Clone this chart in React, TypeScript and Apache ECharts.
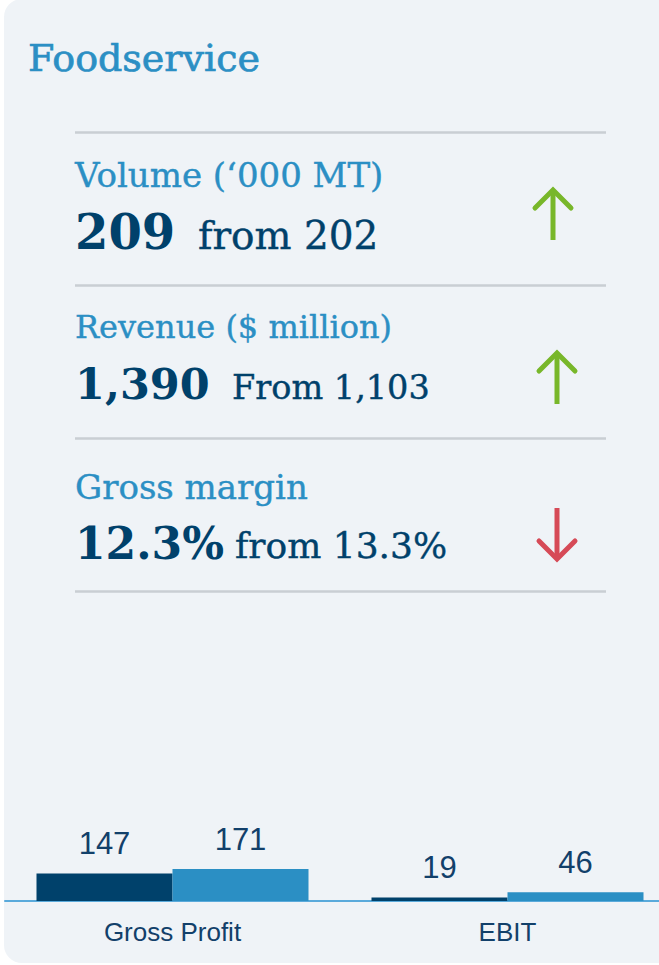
import React, { useEffect, useRef } from "react";
import * as echarts from "echarts";

const categories = ["Gross Profit", "EBIT"];
const priorValues = [147, 19];
const currentValues = [171, 46];

const metricLabels = ["Volume (‘000 MT)", "Revenue ($ million)", "Gross margin"];
const metricValues = ["209", "1,390", "12.3%"];
const metricFrom = ["from 202", "From 1,103", "from 13.3%"];
const metricDirection = ["up", "up", "down"];

const SERIF = "'DejaVu Serif', 'Liberation Serif', serif";
const SANS = "'Liberation Sans', Arial, sans-serif";
const BLUE = "#2b8fc4";
const NAVY = "#00416b";

export default function App() {
  const ref = useRef<HTMLDivElement>(null);
  useEffect(() => {
    document.body.style.margin = "0";
    const chart = echarts.init(ref.current!, undefined, { renderer: "svg" });

    const dividerY = [132.5, 285.5, 438.5, 591.5];
    const labelY = [175, 326.5, 487];
    const valueY = [232, 384, 543];
    const valueSize = [48, 43, 44];
    const labelSize = [34, 32, 34];
    const fromX = [198, 232, 235];
    const fromY = [235, 387, 545];
    const fromSize = [39, 33.5, 36];
    const arrowX = [553, 557, 557];
    const arrowTop = [190, 353, 508];
    const arrowBottom = [240, 404, 559];

    const elements: any[] = [
      {
        type: "rect",
        z: -100,
        shape: { x: 4, y: -1, width: 720, height: 964, r: 18 },
        style: { fill: "#eff3f7" },
      },
      {
        type: "text",
        z: 10,
        x: 28,
        y: 58,
        style: {
          text: "Foodservice",
          font: `38px ${SERIF}`,
          fill: BLUE,
          stroke: BLUE,
          lineWidth: 0.7,
          verticalAlign: "middle",
        },
      },
    ];
    dividerY.forEach((y) =>
      elements.push({
        type: "line",
        z: 10,
        shape: { x1: 75, y1: y, x2: 606, y2: y },
        style: { stroke: "#c9ced3", lineWidth: 2.5 },
      })
    );
    metricLabels.forEach((lab, i) => {
      elements.push({
        type: "text",
        z: 10,
        x: 75,
        y: labelY[i],
        style: {
          text: lab,
          font: `${labelSize[i]}px ${SERIF}`,
          fill: BLUE,
          stroke: BLUE,
          lineWidth: 0.4,
          verticalAlign: "middle",
        },
      });
      elements.push({
        type: "text",
        z: 10,
        x: 75,
        y: valueY[i],
        style: {
          text: metricValues[i],
          font: `bold ${valueSize[i]}px ${SERIF}`,
          fill: NAVY,
          verticalAlign: "middle",
        },
      });
      elements.push({
        type: "text",
        z: 10,
        x: fromX[i],
        y: fromY[i],
        style: {
          text: metricFrom[i],
          font: `${fromSize[i]}px ${SERIF}`,
          fill: NAVY,
          stroke: NAVY,
          lineWidth: 0.4,
          verticalAlign: "middle",
        },
      });
      const up = metricDirection[i] === "up";
      const color = up ? "#78b72a" : "#d64a57";
      const cx = arrowX[i];
      const tip = up ? arrowTop[i] : arrowBottom[i];
      const tail = up ? arrowBottom[i] : arrowTop[i];
      const armY = up ? tip + 18 : tip - 18;
      elements.push({
        type: "line",
        z: 10,
        shape: { x1: cx, y1: tail, x2: cx, y2: tip + (up ? 2 : -2) },
        style: { stroke: color, lineWidth: 5 },
      });
      elements.push({
        type: "polyline",
        z: 10,
        shape: { points: [[cx - 18, armY], [cx, tip], [cx + 18, armY]] },
        style: { stroke: color, lineWidth: 5, lineCap: "round", lineJoin: "miter", fill: null },
      });
    });

    chart.setOption({
      animation: false,
      backgroundColor: "#ffffff",
      graphic: { elements },
      grid: { left: 5, width: 670, top: 801, height: 100, containLabel: false },
      xAxis: {
        type: "category",
        data: categories,
        axisLine: { show: true, lineStyle: { color: "#5aaadb", width: 2 } },
        axisTick: { show: false },
        axisLabel: { fontSize: 26, color: "#12406a", fontFamily: SANS, margin: 18 },
      },
      yAxis: {
        type: "value",
        min: 0,
        max: 533,
        show: false,
        splitLine: { show: false },
      },
      series: [
        {
          type: "bar",
          name: "Prior",
          data: priorValues,
          barWidth: 136,
          barGap: "0%",
          itemStyle: { color: NAVY },
          label: { show: true, position: "top", distance: 14, fontSize: 31, color: "#12406a", fontFamily: SANS },
        },
        {
          type: "bar",
          name: "Current",
          data: currentValues,
          barWidth: 136,
          barGap: "0%",
          itemStyle: { color: BLUE },
          label: { show: true, position: "top", distance: 14, fontSize: 31, color: "#12406a", fontFamily: SANS },
        },
      ],
    });
    return () => chart.dispose();
  }, []);
  return (
    <div style={{ width: 659, height: 965, overflow: "hidden", position: "relative" }}>
      <div ref={ref} style={{ width: 690, height: 965 }} />
    </div>
  );
}
